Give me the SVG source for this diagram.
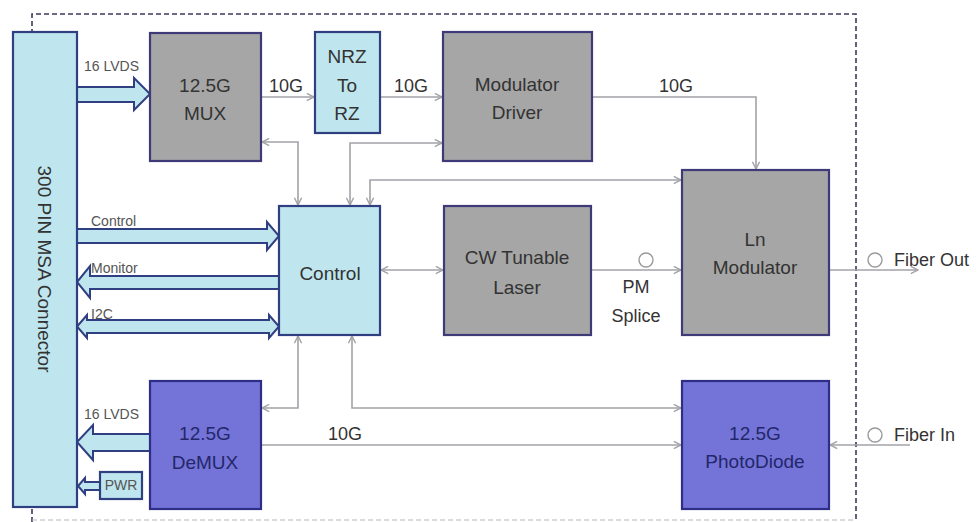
<svg xmlns="http://www.w3.org/2000/svg" width="979" height="522" viewBox="0 0 979 522">
<defs>
<style>
.bg{fill:#ffffff}
.frame{fill:none;stroke:#3a3a5c;stroke-width:1.6;stroke-dasharray:5 3}
.frame2{fill:none;stroke:#b8b8c4;stroke-width:1.2;stroke-dasharray:5 3}
.gray{fill:#a6a6a6;stroke:#3e3a78;stroke-width:2.2}
.lblue{fill:#bfe6ee;stroke:#2f3f82;stroke-width:2.2}
.purple{fill:#7474d8;stroke:#2e2e86;stroke-width:2.2}
.bus{fill:#bfe6ee;stroke:#2f3f82;stroke-width:2;stroke-linejoin:miter}
.wire{fill:none;stroke:#a3a3a8;stroke-width:1.6}
.t{font-family:"Liberation Sans",Arial,sans-serif;font-size:19px;fill:#333333;text-anchor:middle}
.tb{font-family:"Liberation Sans",Arial,sans-serif;font-size:19px;fill:#23276a;text-anchor:middle}
.s{font-family:"Liberation Sans",Arial,sans-serif;font-size:14px;fill:#555555}
.m{font-family:"Liberation Sans",Arial,sans-serif;font-size:18px;fill:#333333}
.ring{fill:#ffffff;stroke:#9a9a9a;stroke-width:1.4}
</style>
<marker id="ah" viewBox="0 0 10 10" refX="9" refY="5" markerWidth="9" markerHeight="9" markerUnits="userSpaceOnUse" orient="auto-start-reverse">
<path d="M1,1 L9,5 L1,9" fill="none" stroke="#a3a3a8" stroke-width="1.6"/>
</marker>
</defs>
<rect class="bg" x="0" y="0" width="979" height="522"/>
<path class="frame" d="M32,522 L32,14 L856,14 L856,522"/>
<line class="frame2" x1="32" y1="520" x2="856" y2="520"/>

<g id="connectors">
<line class="wire" x1="261" y1="97" x2="314" y2="97" marker-end="url(#ah)"/>
<line class="wire" x1="380" y1="97" x2="442" y2="97" marker-end="url(#ah)"/>
<polyline class="wire" points="592,97 756,97 756,169" marker-end="url(#ah)"/>
<polyline class="wire" points="262,142 298,142 298,205" marker-start="url(#ah)" marker-end="url(#ah)"/>
<polyline class="wire" points="350,205 350,143 442,143" marker-start="url(#ah)" marker-end="url(#ah)"/>
<polyline class="wire" points="370,205 370,180 681,180" marker-start="url(#ah)" marker-end="url(#ah)"/>
<line class="wire" x1="381" y1="270" x2="443" y2="270" marker-start="url(#ah)" marker-end="url(#ah)"/>
<polyline class="wire" points="298,336 298,408 262,408" marker-start="url(#ah)" marker-end="url(#ah)"/>
<polyline class="wire" points="352,336 352,408 681,408" marker-start="url(#ah)" marker-end="url(#ah)"/>
<line class="wire" x1="591" y1="270" x2="681" y2="270" marker-end="url(#ah)"/>
<line class="wire" x1="829" y1="270" x2="918" y2="270" marker-end="url(#ah)"/>
<line class="wire" x1="910" y1="445" x2="830" y2="445" marker-end="url(#ah)"/>
<line class="wire" x1="261" y1="445" x2="681" y2="445" marker-end="url(#ah)"/>
<circle class="ring" cx="646" cy="260" r="7"/>
<circle class="ring" cx="875" cy="260" r="7"/>
<circle class="ring" cx="875" cy="435" r="7"/>
<polygon class="bus" points="77,87 134,87 134,78 150,94 134,110 134,102 77,102"/>
<polygon class="bus" points="77,229 267,229 267,222 279,236 267,250 267,243 77,243"/>
<polygon class="bus" points="279,276 90,276 90,266 77,282 90,298 90,289 279,289"/>
<polygon class="bus" points="87,320 269,320 269,315 279,326.5 269,338 269,333 87,333 87,338 77,326.5 87,315"/>
<polygon class="bus" points="150,434 93,434 93,425 77,442 93,460 93,451 150,451"/>
<polygon class="bus" points="100,482 85,482 85,478 78,486 85,494 85,490 100,490"/>
<text class="s" x="84" y="71">16 LVDS</text>
<text class="s" x="91" y="226">Control</text>
<text class="s" x="91" y="273">Monitor</text>
<text class="s" x="91" y="319">I2C</text>
<text class="s" x="84" y="419">16 LVDS</text>
<text class="m" x="269" y="92">10G</text>
<text class="m" x="394" y="92">10G</text>
<text class="m" x="659" y="92">10G</text>
<text class="m" x="328" y="440">10G</text>
<text class="m" x="636" y="293" text-anchor="middle">PM</text>
<text class="m" x="636" y="322" text-anchor="middle">Splice</text>
<text class="m" x="894" y="266">Fiber Out</text>
<text class="m" x="894" y="441">Fiber In</text>
</g>

<g id="msa">
<rect class="lblue" x="13" y="32" width="64" height="475"/>
<text class="t" transform="translate(44,269) rotate(90)" dominant-baseline="central" font-size="20">300 PIN MSA Connector</text>
</g>
<g id="mux">
<rect class="gray" x="150" y="33" width="111" height="128"/>
<text class="t" x="205" y="92">12.5G</text>
<text class="t" x="205" y="120">MUX</text>
</g>
<g id="nrz">
<rect class="lblue" x="315" y="32" width="65" height="101"/>
<text class="t" x="347" y="63">NRZ</text>
<text class="t" x="347" y="92">To</text>
<text class="t" x="347" y="120">RZ</text>
</g>
<g id="driver">
<rect class="gray" x="443" y="32" width="149" height="129"/>
<text class="t" x="517" y="91">Modulator</text>
<text class="t" x="517" y="119">Driver</text>
</g>
<g id="lnmod">
<rect class="gray" x="682" y="170" width="147" height="165"/>
<text class="t" x="755" y="246">Ln</text>
<text class="t" x="755" y="274">Modulator</text>
</g>
<g id="control">
<rect class="lblue" x="279" y="206" width="101" height="129"/>
<text class="t" x="330" y="280">Control</text>
</g>
<g id="laser">
<rect class="gray" x="444" y="206" width="147" height="129"/>
<text class="t" x="517" y="264">CW Tunable</text>
<text class="t" x="517" y="294">Laser</text>
</g>
<g id="demux">
<rect class="purple" x="150" y="381" width="111" height="128"/>
<text class="tb" x="205" y="440">12.5G</text>
<text class="tb" x="205" y="469">DeMUX</text>
</g>
<g id="photodiode">
<rect class="purple" x="682" y="381" width="147" height="128"/>
<text class="tb" x="755" y="440">12.5G</text>
<text class="tb" x="755" y="468">PhotoDiode</text>
</g>
<g id="pwr">
<rect class="lblue" x="100" y="472" width="42" height="27" stroke-width="2"/>
<text class="s" x="121" y="490" text-anchor="middle" font-size="11" fill="#5a6a8a">PWR</text>
</g>
</svg>
